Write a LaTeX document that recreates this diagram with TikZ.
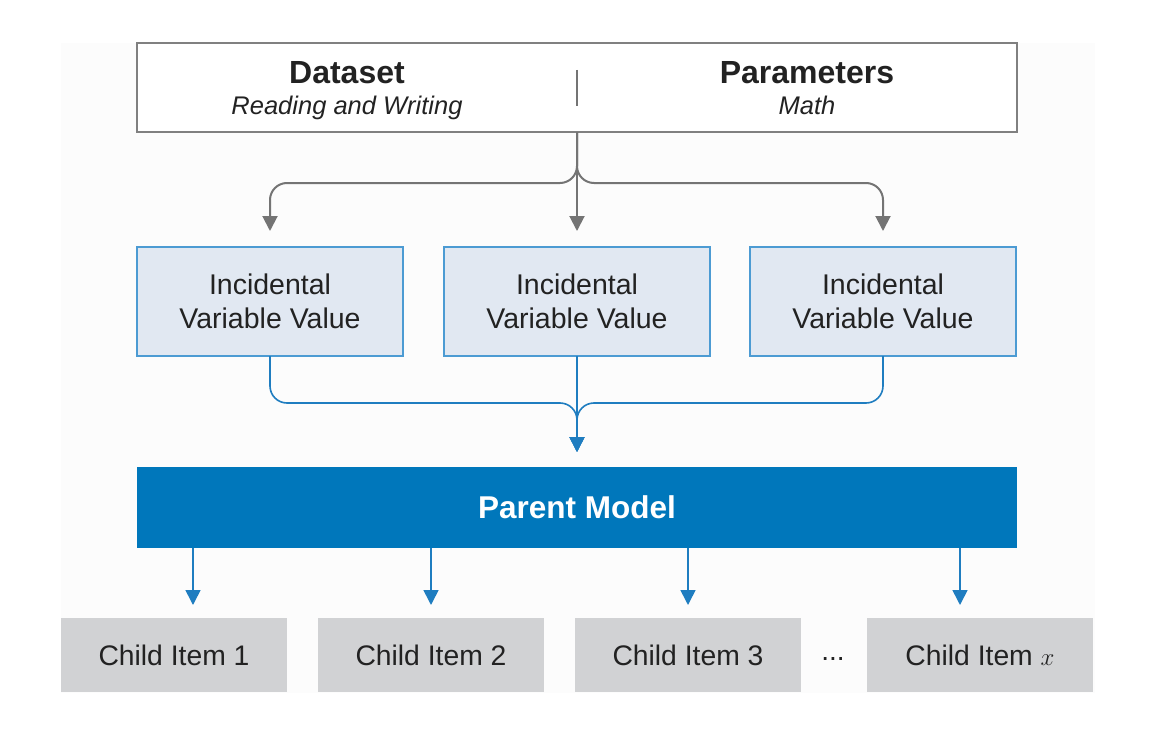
\documentclass[tikz,border=0pt]{standalone}
\usepackage{fontspec}
\setmainfont{Liberation Sans}
\usetikzlibrary{arrows.meta,calc}
\definecolor{txt}{HTML}{222222}
\definecolor{gline}{HTML}{747474}
\definecolor{gborder}{HTML}{808080}
\definecolor{bfill}{HTML}{E1E8F2}
\definecolor{bborder}{HTML}{4C9BD3}
\definecolor{bline}{HTML}{1F7DC0}
\definecolor{pfill}{HTML}{0077BB}
\definecolor{cfill}{HTML}{D1D2D4}
\definecolor{panel}{HTML}{FCFCFC}
\begin{document}
\begin{tikzpicture}[x=1pt,y=-1pt,
  every node/.style={inner sep=0pt,outer sep=0pt,text=txt},
  topbox/.style={draw=gborder,line width=2pt,fill=white,minimum width=880pt,minimum height=89pt},
  toptext/.style={align=center,anchor=north,font=\fontsize{25.5}{31}\selectfont},
  ivbox/.style={draw=bborder,line width=1.2pt,fill=bfill,minimum width=266pt,minimum height=109pt,align=center,font=\fontsize{28.5}{34}\selectfont},
  parentbox/.style={fill=pfill,minimum width=880pt,minimum height=81pt,text=white,font=\fontsize{31.5}{36}\selectfont\bfseries},
  childbox/.style={fill=cfill,minimum width=226pt,minimum height=74pt,font=\fontsize{28.3}{34}\selectfont},
  garr/.style={draw=gline,line width=2pt,rounded corners=17pt,-{Triangle[width=15pt,length=15pt]}},
  barr/.style={draw=bline,line width=1.6pt,rounded corners=17pt,-{Triangle[width=15pt,length=15pt]}},
]
\useasboundingbox (0,0) rectangle (1160,752);
\fill[panel] (61,43) rectangle (1095,693);

\node[topbox] (top) at (577,87.5) {};
\node[toptext] (ds) at (347,61) {{\fontsize{32}{31}\selectfont\bfseries Dataset}\\{\itshape Reading and Writing}};
\node[toptext] (pm) at (807,61) {{\fontsize{32}{31}\selectfont\bfseries Parameters}\\{\itshape Math}};
\coordinate (d1) at (577,70);
\coordinate (d2) at (577,106);
\draw[gline,line width=1.3pt] (d1) -- (d2);

\node[ivbox] (iv1) at (270,301.5) {Incidental\\Variable Value};
\node[ivbox] (iv2) at (577,301.5) {Incidental\\Variable Value};
\node[ivbox] (iv3) at (883,301.5) {Incidental\\Variable Value};

\path (iv1.north) ++(0,-64) coordinate (g1);
\draw[garr,shorten >=16pt] (top.south) |- (iv1.north |- g1) -- (iv1.north);
\draw[garr,shorten >=16pt] (top.south) -- (iv2.north);
\draw[garr,shorten >=16pt] (top.south) |- (iv3.north |- g1) -- (iv3.north);

\node[parentbox] (parent) at (577,507.5) {Parent Model};

\draw[barr,shorten >=15pt] (iv1.south) -- ++(0,47) -| (parent.north);
\draw[barr,shorten >=15pt] (iv2.south) -- (parent.north);
\draw[barr,shorten >=15pt] (iv3.south) -- ++(0,47) -| (parent.north);

\node[childbox] (c1) at (174,655) {Child Item 1};
\node[childbox] (c2) at (431,655) {Child Item 2};
\node[childbox] (c3) at (688,655) {Child Item 3};
\node[childbox] (cx) at (980,655) {Child Item $x$};
\node[font=\fontsize{28}{34}\selectfont] (dots) at (833,659) {...};

\draw[barr,shorten >=13pt] ([xshift=19pt]c1.north |- parent.south) -- ([xshift=19pt]c1.north);
\draw[barr,shorten >=13pt] (c2.north |- parent.south) -- (c2.north);
\draw[barr,shorten >=13pt] (c3.north |- parent.south) -- (c3.north);
\draw[barr,shorten >=13pt] ([xshift=-20pt]cx.north |- parent.south) -- ([xshift=-20pt]cx.north);
\end{tikzpicture}
\end{document}
